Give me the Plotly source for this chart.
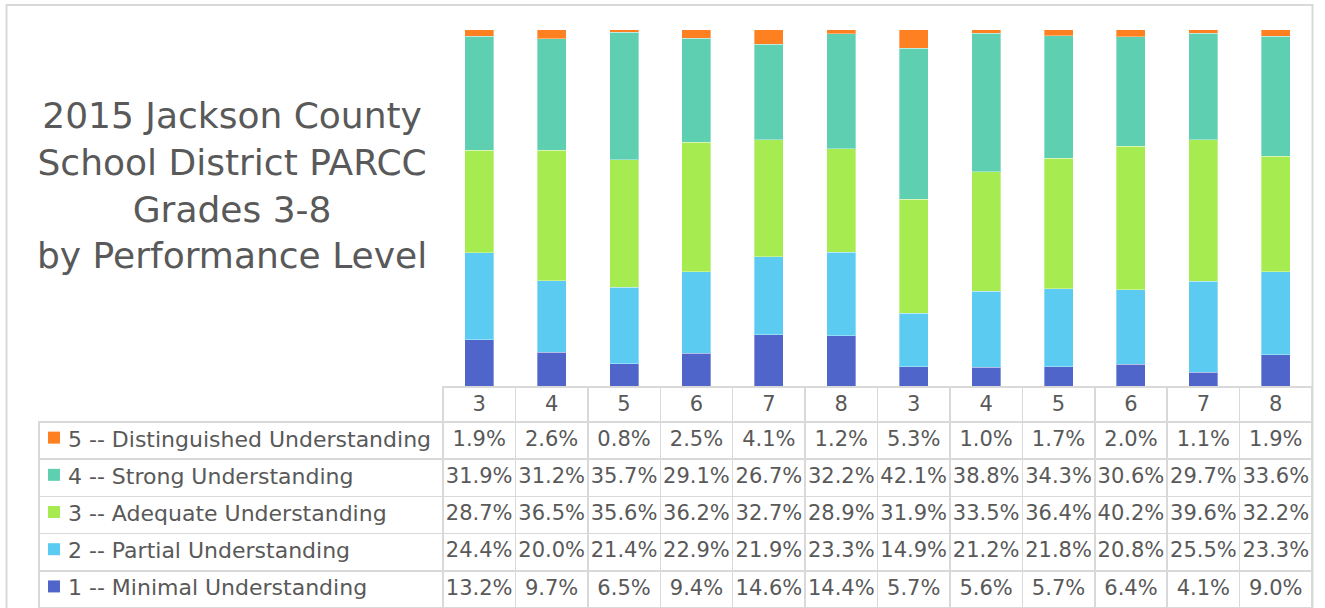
import plotly.graph_objects as go

grades = ["3", "4", "5", "6", "7", "8", "3", "4", "5", "6", "7", "8"]
level_names = [
    "1 -- Minimal Understanding",
    "2 -- Partial Understanding",
    "3 -- Adequate Understanding",
    "4 -- Strong Understanding",
    "5 -- Distinguished Understanding",
]
level1 = [13.2, 9.7, 6.5, 9.4, 14.6, 14.4, 5.7, 5.6, 5.7, 6.4, 4.1, 9.0]
level2 = [24.4, 20.0, 21.4, 22.9, 21.9, 23.3, 14.9, 21.2, 21.8, 20.8, 25.5, 23.3]
level3 = [28.7, 36.5, 35.6, 36.2, 32.7, 28.9, 31.9, 33.5, 36.4, 40.2, 39.6, 32.2]
level4 = [31.9, 31.2, 35.7, 29.1, 26.7, 32.2, 42.1, 38.8, 34.3, 30.6, 29.7, 33.6]
level5 = [1.9, 2.6, 0.8, 2.5, 4.1, 1.2, 5.3, 1.0, 1.7, 2.0, 1.1, 1.9]
colors = ["#4F65C9", "#5BCBF1", "#A6EB50", "#5ECFB1", "#FF8021"]
title_text = "2015 Jackson County<br>School District PARCC<br>Grades 3-8<br>by Performance Level"

W, H = 1325, 608
FONT = "DejaVu Sans"
TXT = "#595959"
GRID = "#D9D9D9"

series = [level1, level2, level3, level4, level5]
positions = list(range(len(grades)))

fig = go.Figure()
for name, vals, col in zip(level_names, series, colors):
    fig.add_trace(go.Bar(
        x=positions, y=vals, name=name, width=0.4,
        marker=dict(color=col, line=dict(color="rgba(255,255,255,0.35)", width=1)),
        showlegend=False, hoverinfo="skip",
    ))

# table geometry (pixels)
tab_left, split, tab_right = 39, 443, 1312
head_top, body_top = 387, 422
row_h, head_h = 37.2, 35

rows_top_to_bottom = list(reversed(range(len(level_names))))


def legend_label(i):
    return "\u00a0\u00a0\u00a0" + level_names[i].replace(" ", "\u00a0")


# legend swatches (one per row of the legend column)
fig.add_trace(go.Scatter(
    x=[54] * len(level_names), y=list(range(len(level_names))),
    mode="markers", xaxis="x2", yaxis="y2",
    marker=dict(symbol="square", size=12, line=dict(width=0),
                color=[colors[i] for i in rows_top_to_bottom]),
    showlegend=False, hoverinfo="skip", cliponaxis=False,
))

# legend column table
leg_cells = [legend_label(i) for i in rows_top_to_bottom]
fig.add_trace(go.Table(
    domain=dict(x=[tab_left / W, split / W], y=[0, (H - body_top) / H]),
    header=dict(values=[leg_cells[0]], align="left", height=row_h,
                line=dict(color=GRID, width=1.5), fill=dict(color="rgba(0,0,0,0)"),
                font=dict(family=FONT, size=22, color=TXT)),
    cells=dict(values=[leg_cells[1:]], align="left", height=row_h,
               line=dict(color=GRID, width=1.5), fill=dict(color="rgba(0,0,0,0)"),
               font=dict(family=FONT, size=22, color=TXT)),
))

# data table
cols = []
for j in positions:
    cols.append([f"{series[i][j]:.1f}%" for i in rows_top_to_bottom])
fig.add_trace(go.Table(
    domain=dict(x=[split / W, tab_right / W], y=[0, (H - head_top) / H]),
    header=dict(values=grades, align="center", height=head_h,
                line=dict(color=GRID, width=1.5), fill=dict(color="white"),
                font=dict(family=FONT, size=21, color=TXT)),
    cells=dict(values=cols, align="center", height=row_h,
               line=dict(color=GRID, width=1.5), fill=dict(color="white"),
               font=dict(family=FONT, size=21, color=TXT)),
))

fig.update_layout(
    width=W, height=H,
    margin=dict(l=0, r=0, t=0, b=0),
    paper_bgcolor="white", plot_bgcolor="rgba(0,0,0,0)",
    barmode="stack", barnorm="percent",
    font=dict(family=FONT, color=TXT),
    xaxis=dict(domain=[split / W, tab_right / W], range=[-0.5, len(grades) - 0.5],
               showticklabels=False, showgrid=False, zeroline=False, ticks=""),
    yaxis=dict(domain=[(H - head_top) / H, (H - 29.5) / H], range=[0, 100],
               showticklabels=False, showgrid=False, zeroline=False, ticks=""),
    xaxis2=dict(domain=[0, 1], range=[0, W], visible=False, anchor="y2"),
    yaxis2=dict(domain=[0, (H - body_top) / H],
                range=[len(level_names) - 0.5 + 0.08, -0.5 + 0.08],
                visible=False, anchor="x2"),
    annotations=[dict(
        text=title_text, xref="paper", yref="paper", x=232 / W, y=(H - 185) / H,
        xanchor="center", yanchor="middle", showarrow=False, align="center",
        font=dict(family=FONT, size=36, color=TXT),
    )],
    shapes=[dict(type="rect", xref="paper", yref="paper",
                 x0=6.5 / W, x1=1312.5 / W, y0=-0.05, y1=(H - 5) / H,
                 line=dict(color=GRID, width=2), fillcolor="rgba(0,0,0,0)", layer="below")],
)

fig.write_html("out.html", config={"displayModeBar": False},
               post_script="document.body.style.margin='0';document.body.style.overflow='hidden';")
